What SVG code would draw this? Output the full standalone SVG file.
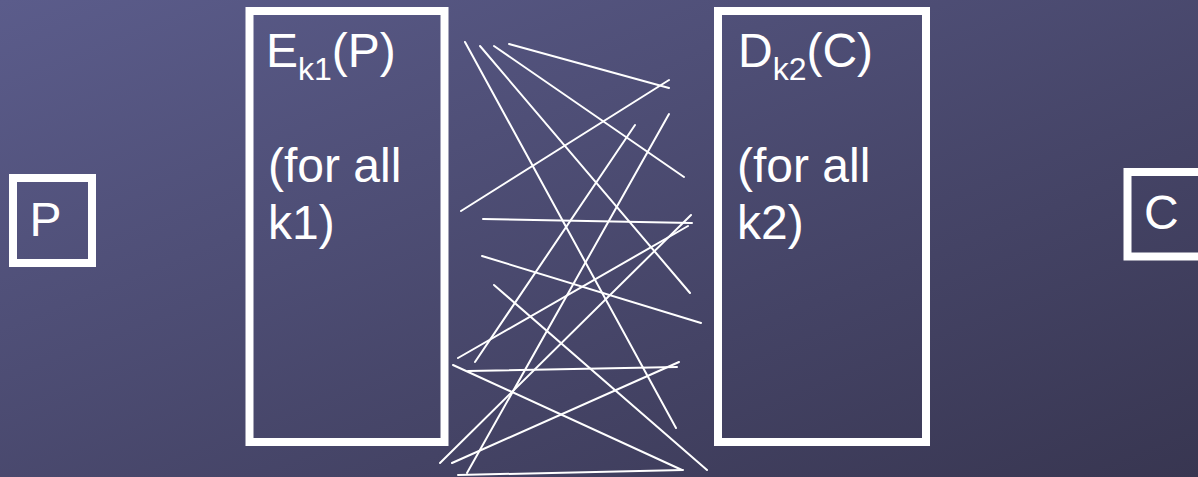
<svg xmlns="http://www.w3.org/2000/svg" width="1198" height="477" viewBox="0 0 1198 477">
<defs>
<linearGradient id="bg" x1="0" y1="0" x2="1" y2="1">
<stop offset="0" stop-color="#5b5c8b"/>
<stop offset="1" stop-color="#383651"/>
</linearGradient>
<style>
.box{fill:none;stroke:#ffffff;stroke-width:8}
.t{font-family:"Liberation Sans",Arial,sans-serif;font-size:48px;fill:#ffffff}
.sub{font-size:32px}
.c line{stroke:#ffffff;stroke-width:2;stroke-linecap:round}
</style>
</defs>
<rect width="1198" height="477" fill="url(#bg)"/>
<g id="nodeP">
<rect class="box" x="13" y="178" width="79" height="85"/>
<text class="t" x="29.5" y="235.5">P</text>
</g>
<g id="nodeE">
<rect class="box" x="249.5" y="11" width="195" height="431"/>
<text class="t" x="266" y="67.3">E<tspan class="sub" dy="12.7">k1</tspan><tspan dy="-12.7">(P)</tspan></text>
<text class="t" x="268" y="182">(for all</text>
<text class="t" x="268" y="239">k1)</text>
</g>
<g id="nodeD">
<rect class="box" x="718" y="11" width="208" height="431"/>
<text class="t" x="738" y="67.3">D<tspan class="sub" dy="12.7">k2</tspan><tspan dy="-12.7">(C)</tspan></text>
<text class="t" x="737" y="182">(for all</text>
<text class="t" x="737" y="239">k2)</text>
</g>
<g id="nodeC">
<rect class="box" x="1127.5" y="172" width="90" height="84.5"/>
<text class="t" x="1144" y="229">C</text>
</g>
<g id="connectors" class="c">
<line x1="465" y1="42" x2="676" y2="428"/>
<line x1="480" y1="46" x2="690" y2="293"/>
<line x1="494" y1="46" x2="684" y2="177"/>
<line x1="509" y1="44" x2="669" y2="88"/>
<line x1="669" y1="80" x2="461" y2="211"/>
<line x1="635" y1="125" x2="475" y2="362"/>
<line x1="669" y1="114" x2="467" y2="473"/>
<line x1="483" y1="219" x2="692" y2="223"/>
<line x1="688" y1="226" x2="458" y2="358"/>
<line x1="494" y1="285" x2="707" y2="470"/>
<line x1="482" y1="256" x2="701" y2="323"/>
<line x1="468" y1="371" x2="677" y2="367"/>
<line x1="679" y1="362" x2="452" y2="463"/>
<line x1="453" y1="365" x2="682" y2="470"/>
<line x1="691" y1="215" x2="440" y2="463"/>
<line x1="458" y1="475" x2="683" y2="470"/>
</g>
</svg>
